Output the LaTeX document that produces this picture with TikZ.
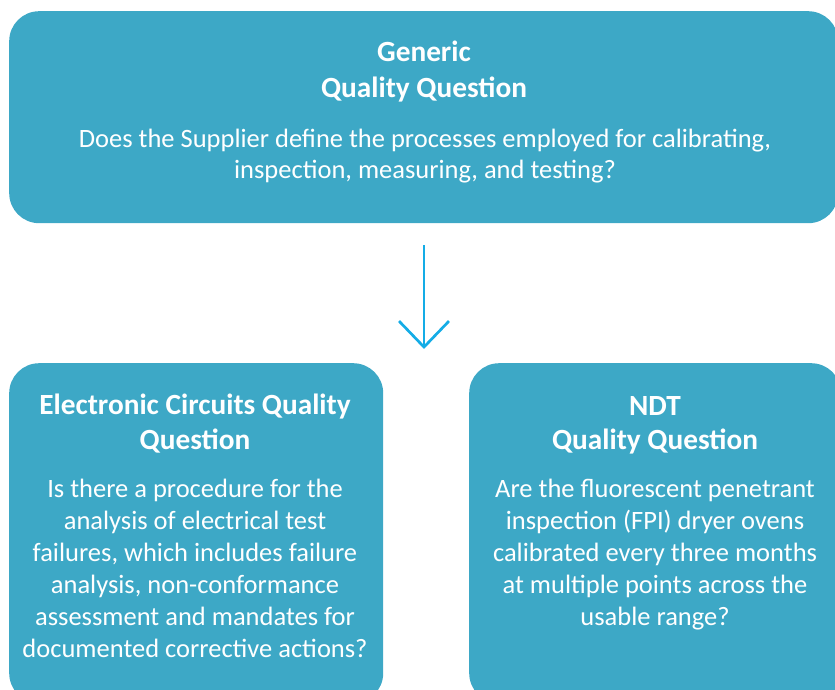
\documentclass[tikz,border=0pt]{standalone}
\usepackage{fontspec}
\setmainfont{Carlito}
\usetikzlibrary{arrows.meta}
\definecolor{boxblue}{RGB}{61,168,198}
\definecolor{arrowblue}{RGB}{20,172,230}
\begin{document}
\begin{tikzpicture}[x=1pt,y=-1pt,
  qbox/.style={fill=boxblue, draw=none, rounded corners=30pt, inner sep=0pt, anchor=north west},
  ttl/.style={anchor=base, inner sep=0pt, text=white, font=\fontsize{29.3}{34}\selectfont\bfseries},
  txt/.style={anchor=base, inner sep=0pt, text=white, font=\fontsize{26.5}{31}\selectfont},
  conn/.style={draw=arrowblue, line width=2.7pt, -{Straight Barb[length=26pt,width=50pt]}}]
\useasboundingbox (0,0) rectangle (835,690);
\clip (0,0) rectangle (835,690);
% boxes
\node[qbox, minimum width=829pt, minimum height=212pt] (gen) at (9,11) {};
\node[qbox, minimum width=374pt, minimum height=340pt] (elec) at (9,363) {};
\node[qbox, minimum width=372pt, minimum height=340pt] (ndt) at (469,363) {};
% top texts
\node[ttl] (g1) at (424,62) {Generic};
\node[ttl] (g2) at (424,98) {Quality Question};
\node[txt] (g3) at (425,147) {Does the Supplier define the processes employed for calibrating,};
\node[txt] (g4) at (425,178) {inspection, measuring, and testing?};
% left texts
\node[ttl] (e1) at (195,414) {Electronic Circuits Quality};
\node[ttl] (e2) at (195,449) {Question};
\node[txt] (e3) at (195,497) {Is there a procedure for the};
\node[txt] (e4) at (195,529) {analysis of electrical test};
\node[txt] (e5) at (195,561) {failures, which includes failure};
\node[txt] (e6) at (195,593) {analysis, non-conformance};
\node[txt] (e7) at (195,625) {assessment and mandates for};
\node[txt] (e8) at (195,657) {documented corrective actions?};
% right texts
\node[ttl] (n1) at (655,415) {NDT};
\node[ttl] (n2) at (655,449) {Quality Question};
\node[txt] (n3) at (655,497) {Are the fluorescent penetrant};
\node[txt] (n4) at (655,529) {inspection (FPI) dryer ovens};
\node[txt] (n5) at (655,561) {calibrated every three months};
\node[txt] (n6) at (655,593) {at multiple points across the};
\node[txt] (n7) at (655,625) {usable range?};
% arrow
\coordinate (a1) at (424,245);
\coordinate (a2) at (424,349);
\draw[conn] (a1) -- (a2);
\end{tikzpicture}
\end{document}
